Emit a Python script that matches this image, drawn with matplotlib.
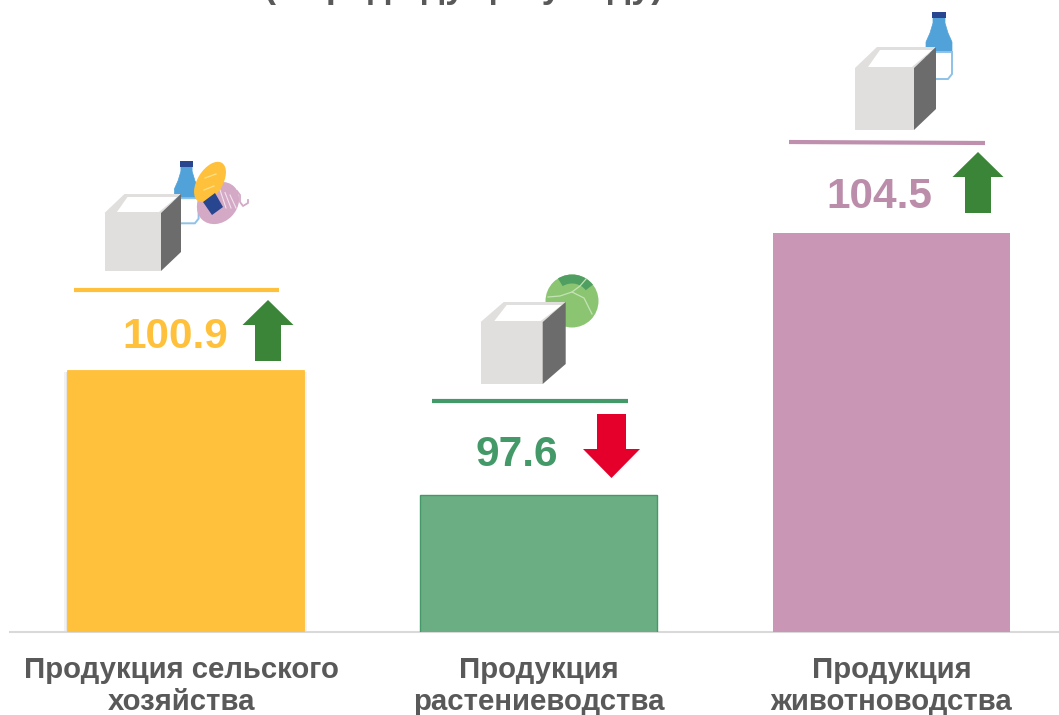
# Agricultural output index bars with the little cube pictograms above each bar.
import matplotlib
matplotlib.use('Agg')
import matplotlib.pyplot as plt
from matplotlib.patches import Polygon, Ellipse, Circle, Wedge
from matplotlib.transforms import ScaledTranslation

plt.rcParams['font.family'] = ['Liberation Sans', 'DejaVu Sans']

categories = ['Продукция сельского\nхозяйства', 'Продукция\nрастениеводства', 'Продукция\nживотноводства']
values = [100.9, 97.6, 104.5]
value_labels = ['100.9', '97.6', '104.5']
bar_colors = ['#FFC13B', '#6BAE84', '#C997B5']
edge_colors = ['#FFC13B', '#439A68', '#C997B5']
edge_widths = [0.6, 1.0, 0]
text_colors = ['#FFC13B', '#439A68', '#BC8DAB']
title = '(к предыдущему году)'

GREY = '#595959'
YARN = '#D3A9C6'
W, H = 1059, 715

fig = plt.figure(figsize=(W / 100, H / 100), dpi=100)

# bars live in their own axes, baseline at y=632px
ax = fig.add_axes([10 / W, (H - 632) / H, (W - 10) / W, 632 / H])
ax.bar(range(3), values, width=0.671, color=bar_colors, edgecolor=edge_colors, linewidth=edge_widths, zorder=3)
# soft shadow round the first bar only
for grow in (0.008, 0.016):
    ax.bar(0, values[0] - 0.05, width=0.671 + grow, color='k', alpha=0.05, linewidth=0, zorder=2)
ax.set_xlim(-0.497, 2.475)
ax.set_ylim(93.99, 93.99 + 632 / 37.97)
for s in ['top', 'left', 'right']:
    ax.spines[s].set_visible(False)
ax.spines['bottom'].set_color('#D9D9D9')
ax.spines['bottom'].set_linewidth(1.5)
ax.set_yticks([])
ax.set_xticks(range(3))
ax.set_xticklabels(categories, fontsize=21.2, fontweight='bold', color=GREY, linespacing=1.22)
ax.tick_params(axis='x', length=0, pad=17)
ax.xaxis.get_ticklabels()[0].set_transform(
    ax.xaxis.get_ticklabels()[0].get_transform() + ScaledTranslation(-0.04, 0, fig.dpi_scale_trans))

# overlay in pixel coordinates for pictograms, rules and arrows
ov = fig.add_axes([0, 0, 1, 1], zorder=5)
ov.set_xlim(0, W)
ov.set_ylim(H, 0)
ov.axis('off')


def cube(x, y, w, h, dx, dy):
    # x, y = bottom left of the front face
    lip = 0.22
    ov.add_patch(Polygon([(x, y), (x + w, y), (x + w, y - h), (x, y - h)], fc='#E0DFDD', ec='none', zorder=4))
    ov.add_patch(Polygon([(x, y - h), (x + dx, y - h - dy), (x + w + dx, y - h - dy), (x + w, y - h)],
                         fc='#E0DFDD', ec='none', zorder=4))
    ov.add_patch(Polygon([(x + w * lip, y - h - 1), (x + dx + 3, y - h - dy + 3),
                          (x + w + dx - 4, y - h - dy + 3), (x + w - 2, y - h - 1)],
                         fc='white', ec='none', zorder=4))
    ov.add_patch(Polygon([(x + w, y), (x + w + dx, y - dy), (x + w + dx, y - h - dy), (x + w, y - h)],
                         fc='#6C6C6C', ec='none', zorder=4))


def bottle(cx, top, k=1.0):
    # outline is measured from the right-hand bottle, k scales it
    shape = [(-6, 6), (6, 6), (6, 11), (9, 21), (13, 30), (13, 40), (-13, 40), (-13, 30), (-9, 21), (-6, 11)]
    ov.add_patch(Polygon([(cx + a * k, top + b * k) for a, b in shape], fc='#52A2DA', ec='#52A2DA', lw=0.5, zorder=2))
    low = [(-13, 40), (13, 40), (13, 62), (9, 67), (-9, 67), (-13, 62)]
    ov.add_patch(Polygon([(cx + a * k, top + b * k) for a, b in low], fc='white', ec='#8EC2E8', lw=1.4, zorder=2))
    cap = [(-7, 0), (7, 0), (7, 6), (-7, 6)]
    ov.add_patch(Polygon([(cx + a * k, top + b * k) for a, b in cap], fc='#28458F', ec='none', zorder=2))


def arrow(cx, tip, head_y, end_y, head_w, shaft_w, color):
    ov.add_patch(Polygon([(cx, tip), (cx + head_w / 2, head_y), (cx + shaft_w / 2, head_y), (cx + shaft_w / 2, end_y),
                          (cx - shaft_w / 2, end_y), (cx - shaft_w / 2, head_y), (cx - head_w / 2, head_y)],
                         fc=color, ec='none', zorder=4))


# rules under the cubes
ov.plot([74, 279], [290, 290], color='#FFC13B', lw=3, solid_capstyle='butt')
ov.plot([432, 628], [401, 401], color='#439A68', lw=3, solid_capstyle='butt')
ov.plot([789, 985], [142, 143], color='#BF90AE', lw=3, solid_capstyle='butt')

# value labels
ov.text(175.5, 332, value_labels[0], color=text_colors[0], fontsize=30.5, fontweight='bold', ha='center', va='center_baseline')
ov.text(517, 451, value_labels[1], color=text_colors[1], fontsize=30.5, fontweight='bold', ha='center', va='center_baseline')
ov.text(879, 192, value_labels[2], color=text_colors[2], fontsize=30.5, fontweight='bold', ha='center', va='center_baseline')

arrow(268, 300, 325, 361, 51, 26, '#3B8538')
arrow(611.5, 478, 449, 414, 57, 29, '#E4002B')
arrow(978, 152, 177, 213, 51, 26, '#3B8538')

# first pictogram: bottle, loaf, yarn
bottle(186.5, 161, 0.93)
ov.add_patch(Ellipse((218, 203), 46, 38, angle=-45, fc=YARN, ec='none', zorder=2))
for off in (4, 9, 14):
    ov.plot([216 + off, 222 + off], [188 + off / 2, 208], color='#F1E2EC', lw=0.8, zorder=2)
ov.plot([237, 240, 240, 243, 248, 248], [191, 195, 202, 206, 203, 200], color=YARN, lw=1.3, zorder=2)
ov.add_patch(Ellipse((210, 182), 45, 25, angle=-58, fc='#FFC13B', ec='none', zorder=3))
ov.plot([205, 216], [178, 174], color='#FFE08A', lw=0.9, zorder=3)
ov.plot([204, 214], [190, 186], color='#FFE08A', lw=0.9, zorder=3)
ov.add_patch(Polygon([(203, 202), (215, 193), (223, 207), (212, 215)], fc='#28458F', ec='none', zorder=3))
cube(104.5, 271, 56.5, 58, 20, 19)

# second pictogram: cabbage
ov.add_patch(Circle((572, 301), 26.5, fc='#8CC572', ec='none', zorder=2))
ov.add_patch(Wedge((572, 301), 26.5, 238, 322, width=9, fc='#4F9F63', ec='none', zorder=2))
ov.plot([548, 560, 572, 580, 586], [297, 296, 292, 286, 279], color='#C4E3B4', lw=0.9, zorder=2)
ov.plot([572, 584, 592], [292, 298, 314], color='#C4E3B4', lw=0.9, zorder=2)
cube(480.7, 384, 62, 62, 23, 20)

# third pictogram: bottle only
bottle(939, 12, 1.0)
cube(855, 130, 59, 62, 22, 21)

# heading runs off the top edge of the picture, same as the source image
ov.text(464, -3, title, color=GREY, fontsize=26, fontweight='bold', ha='center', va='baseline')

fig.savefig('out.png', dpi=100)
